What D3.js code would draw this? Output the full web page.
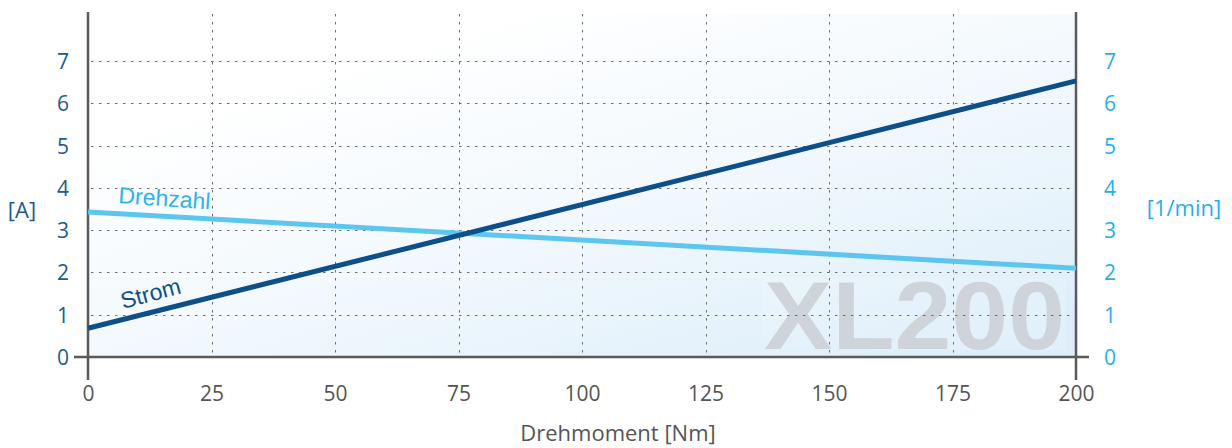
<!DOCTYPE html>
<html>
<head>
<meta charset="utf-8">
<script src="https://cdn.jsdelivr.net/npm/d3@7"></script>
<style>
  html, body { margin: 0; padding: 0; background: #fff; }
  svg { display: block; }
  .tick-txt { font-family: "Open Sans", "Noto Sans", sans-serif; }
</style>
</head>
<body>
<svg id="chart" width="1232" height="448"></svg>
<script>
// Torque (Nm) at which each curve is given
const torque = [0, 200];
// Current draw [A]
const strom = [0.68, 6.53];
// Output speed [1/min]
const drehzahl = [3.43, 2.10];

const xTicks = [0, 25, 50, 75, 100, 125, 150, 175, 200];
const yTicks = [0, 1, 2, 3, 4, 5, 6, 7];

const svg = d3.select("#chart");

const x = d3.scaleLinear().domain([0, 200]).range([88, 1076]);
const y = d3.scaleLinear().domain([0, 7]).range([357, 61]);

const axisTop = 12, axisBottom = 380;
const fmt = d3.format("d");

// background wash
const defs = svg.append("defs");
const grad = defs.append("linearGradient")
  .attr("id", "wash")
  .attr("x1", "0.3").attr("y1", "0.1")
  .attr("x2", "1").attr("y2", "0.9");
grad.append("stop").attr("offset", "0").attr("stop-color", "#ffffff");
grad.append("stop").attr("offset", "0.5").attr("stop-color", "#f1f8fd");
grad.append("stop").attr("offset", "1").attr("stop-color", "#ddeefa");

svg.append("rect")
  .attr("x", x(0)).attr("y", 14)
  .attr("width", x(200) - x(0)).attr("height", y(0) - 14)
  .attr("fill", "url(#wash)");

// model watermark
svg.append("rect")
  .attr("x", 762).attr("y", 278).attr("width", 304).attr("height", 72)
  .attr("fill", "#ffffff").attr("opacity", 0.12);
svg.append("text")
  .attr("x", 764).attr("y", 349)
  .attr("font-family", "'Liberation Sans', Arial, sans-serif")
  .attr("font-weight", "bold")
  .attr("font-size", 97)
  .attr("textLength", 301)
  .attr("lengthAdjust", "spacingAndGlyphs")
  .attr("fill", "#ced4d9")
  .text("XL200");

// dotted grid
const grid = svg.append("g")
  .attr("stroke", "#6e6e6e")
  .attr("stroke-width", 1)
  .attr("stroke-dasharray", "2.5,5.5");
grid.selectAll("line.h")
  .data(yTicks.filter(d => d > 0))
  .join("line")
  .attr("class", "h")
  .attr("x1", x(0) + 3).attr("x2", x(200) - 3)
  .attr("y1", d => Math.round(y(d)) + 0.5)
  .attr("y2", d => Math.round(y(d)) + 0.5);
grid.selectAll("line.v")
  .data(xTicks.filter(d => d > 0 && d < 200))
  .join("line")
  .attr("class", "v")
  .attr("y1", 14).attr("y2", y(0) - 2)
  .attr("x1", d => Math.round(x(d)) + 0.5)
  .attr("x2", d => Math.round(x(d)) + 0.5);

// axes
const axisColor = "#5a5a5a";
const xAxis = svg.append("g")
  .attr("transform", `translate(0,${y(0)})`)
  .call(d3.axisBottom(x).tickValues(xTicks).tickFormat(fmt).tickSize(0).tickPadding(44));
xAxis.select(".domain").remove();
xAxis.selectAll("text")
  .attr("class", "tick-txt")
  .attr("font-size", 21)
  .attr("fill", "#555555")
  .attr("dy", "0");
svg.append("line")
  .attr("x1", 74).attr("x2", 1089)
  .attr("y1", y(0)).attr("y2", y(0))
  .attr("stroke", axisColor).attr("stroke-width", 2.5);

const yLeft = svg.append("g")
  .attr("transform", `translate(${x(0) - 19},0)`)
  .call(d3.axisLeft(y).tickValues(yTicks).tickFormat(fmt).tickSize(0).tickPadding(0));
yLeft.select(".domain").remove();
yLeft.selectAll("text")
  .attr("class", "tick-txt")
  .attr("font-size", 21)
  .attr("fill", "#1b5b8f")
  .attr("dy", "0.36em");

const yRight = svg.append("g")
  .attr("transform", `translate(${x(200) + 28},0)`)
  .call(d3.axisRight(y).tickValues(yTicks).tickFormat(fmt).tickSize(0).tickPadding(0));
yRight.select(".domain").remove();
yRight.selectAll("text")
  .attr("class", "tick-txt")
  .attr("font-size", 21)
  .attr("fill", "#1fb1e8")
  .attr("dy", "0.36em");

[x(0), x(200)].forEach(px => {
  svg.append("line")
    .attr("x1", px).attr("x2", px)
    .attr("y1", axisTop).attr("y2", axisBottom)
    .attr("stroke", axisColor).attr("stroke-width", 2.5);
});

// unit labels
svg.append("text")
  .attr("class", "tick-txt")
  .attr("x", 22).attr("y", 210).attr("dy", "0.36em")
  .attr("text-anchor", "middle")
  .attr("font-size", 22).attr("fill", "#1b5b8f")
  .text("[A]");
svg.append("text")
  .attr("class", "tick-txt")
  .attr("x", 1184).attr("y", 208).attr("dy", "0.36em")
  .attr("text-anchor", "middle")
  .attr("font-size", 22).attr("fill", "#1fb1e8")
  .text("[1/min]");
svg.append("text")
  .attr("class", "tick-txt")
  .attr("x", 618).attr("y", 441)
  .attr("text-anchor", "middle")
  .attr("font-size", 22).attr("fill", "#555555")
  .text("Drehmoment [Nm]");

// curves
const line = d3.line().x(d => x(d[0])).y(d => y(d[1]));
svg.append("path")
  .datum(torque.map((t, i) => [t, drehzahl[i]]))
  .attr("d", line)
  .attr("fill", "none")
  .attr("stroke", "#5cc6f0")
  .attr("stroke-width", 5);
svg.append("path")
  .datum(torque.map((t, i) => [t, strom[i]]))
  .attr("d", line)
  .attr("fill", "none")
  .attr("stroke", "#0d5089")
  .attr("stroke-width", 5);

// curve names
svg.append("text")
  .attr("transform", "translate(118,203) rotate(4)")
  .attr("font-family", "'Liberation Sans', Arial, sans-serif")
  .attr("font-size", 23)
  .attr("fill", "#2bb5e9")
  .text("Drehzahl");
svg.append("text")
  .attr("transform", "translate(123,309) rotate(-15)")
  .attr("font-family", "'Liberation Sans', Arial, sans-serif")
  .attr("font-size", 23)
  .attr("fill", "#0d5089")
  .text("Strom");
</script>
</body>
</html>
